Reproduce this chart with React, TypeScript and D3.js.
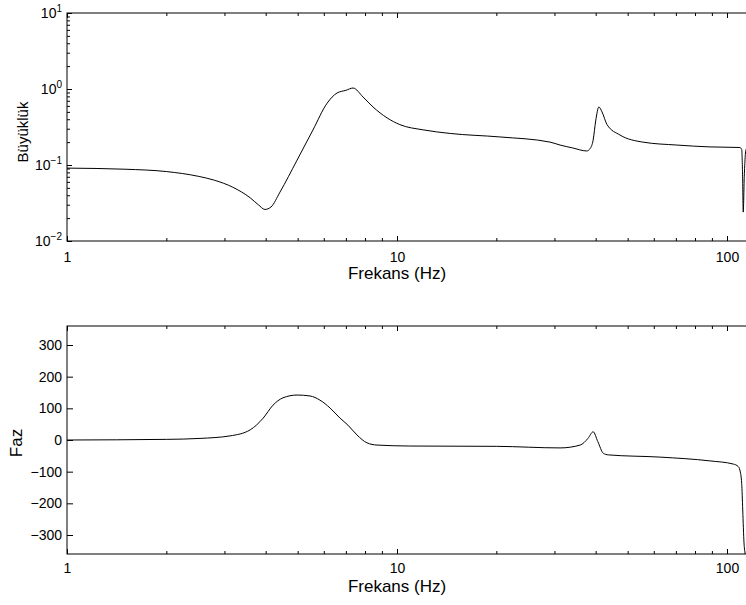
import { useEffect, useRef } from "react";
import * as d3 from "d3";

// frequency response
const magFreq = [
  1, 1.5, 2, 2.5, 2.8, 3.18, 3.59, 3.8, 3.98, 4.15, 4.42, 4.98, 5.56, 6.14,
  6.58, 7.0, 7.36, 7.89, 8.46, 9.33, 10.2, 12, 14.5, 20.5, 29.1, 31.2, 34,
  37.6, 38.5, 39.3, 40.0, 40.9, 41.8, 43.3, 47.4, 55.6, 70.5, 88.8, 109.4,
  110.8, 111.5, 112.0, 112.8, 114.2, 116,
];
const magValues = [
  0.091, 0.088, 0.082, 0.071, 0.063, 0.051, 0.037, 0.03, 0.026, 0.028, 0.044,
  0.116, 0.288, 0.65, 0.886, 0.96, 1.03, 0.785, 0.58, 0.417, 0.34, 0.29, 0.26,
  0.234, 0.2, 0.183, 0.168, 0.153, 0.165, 0.213, 0.38, 0.58, 0.5, 0.34, 0.248,
  0.2, 0.183, 0.173, 0.17, 0.16, 0.07, 0.024, 0.07, 0.16, 0.17,
];

const phaseFreq = [
  1, 2, 2.53, 3.12, 3.59, 3.93, 4.21, 4.51, 4.98, 5.45, 5.84, 6.27, 6.72, 7.1,
  7.56, 8.11, 8.7, 10.9, 20, 31.2, 35.9, 37.9, 39.3, 40.6, 42.2, 43.7, 62.6,
  88.8, 104.5, 108.2, 109.4, 110.8, 111.6, 112.6, 113.4, 114.5,
];
const phaseValues = [
  0, 2, 5, 13, 32, 69, 110, 133, 142, 139, 126, 101, 69, 47, 16, -9, -16, -19,
  -20, -25, -16, 5, 26, -5, -42, -47, -54, -66, -76, -84, -95, -137, -221,
  -325, -357, -380,
];

const xMajor = [1, 10, 100];
const xMinor = [2, 3, 4, 5, 6, 7, 8, 9, 20, 30, 40, 50, 60, 70, 80, 90, 200];
const magMajor = [0.01, 0.1, 1, 10];
const magExp = ["\u22122", "\u22121", "0", "1"];
const phaseTicks = [-300, -200, -100, 0, 100, 200, 300];

const FONT = "'Liberation Sans', Arial, Helvetica, sans-serif";

export default function App() {
  const svgRef = useRef<SVGSVGElement | null>(null);

  useEffect(() => {
    if (!svgRef.current) return;
    const width = 746;
    const height = 605;
    const left = 67;
    const decade = 330;
    const xMax = 200;
    const right = left + decade * Math.log10(xMax);

    const svg = d3.select(svgRef.current).attr("width", width).attr("height", height);
    svg.selectAll("*").remove();

    const x = d3.scaleLog().domain([1, xMax]).range([left, right]);
    const yMag = d3.scaleLog().domain([0.01, 10]).range([241, 13]);
    const yPh = d3.scaleLinear().domain([-360, 360]).range([554, 326]);

    const defs = svg.append("defs");

    function panel(id: string, top: number, bottom: number, labelPad: number) {
      defs
        .append("clipPath")
        .attr("id", id)
        .append("rect")
        .attr("x", left)
        .attr("y", top)
        .attr("width", right - left)
        .attr("height", bottom - top);

      const g = svg.append("g").attr("font-family", FONT);

      // x ticks, inward on bottom and top
      const xb = d3
        .axisBottom(x)
        .tickValues(xMajor)
        .tickSizeInner(-5)
        .tickSizeOuter(0)
        .tickPadding(labelPad)
        .tickFormat((d: any) => String(d));
      const xbm = d3.axisBottom(x).tickValues(xMinor).tickSizeInner(-3).tickSizeOuter(0).tickFormat(() => "");
      const xt = d3.axisTop(x).tickValues(xMajor).tickSizeInner(-5).tickSizeOuter(0).tickFormat(() => "");
      const xtm = d3.axisTop(x).tickValues(xMinor).tickSizeInner(-3).tickSizeOuter(0).tickFormat(() => "");

      [
        [xb, bottom],
        [xbm, bottom],
        [xt, top],
        [xtm, top],
      ].forEach(([ax, ty]: any) => {
        const a = g.append("g").attr("transform", `translate(0,${ty})`).call(ax);
        a.select(".domain").remove();
        a.selectAll("line").attr("stroke", "#000");
        a.selectAll("text").attr("font-size", 14).attr("fill", "#000").attr("font-family", FONT);
      });

      g.append("rect")
        .attr("x", left)
        .attr("y", top)
        .attr("width", right - left)
        .attr("height", bottom - top)
        .attr("fill", "none")
        .attr("stroke", "#000")
        .attr("stroke-width", 1);

      g.append("text")
        .attr("x", x(10))
        .attr("y", bottom + 38)
        .attr("text-anchor", "middle")
        .attr("font-size", 17)
        .text("Frekans (Hz)");

      return g;
    }

    // top panel: magnitude
    const g1 = panel("clipMag", 13, 241, 11);
    const magMinor: number[] = [];
    for (let e = -2; e < 1; e++) for (let k = 2; k <= 9; k++) magMinor.push(k * Math.pow(10, e));

    [
      [d3.axisLeft(yMag).tickValues(magMajor).tickSizeInner(-5), left],
      [d3.axisLeft(yMag).tickValues(magMinor).tickSizeInner(-3), left],
      [d3.axisRight(yMag).tickValues(magMajor).tickSizeInner(-5), right],
      [d3.axisRight(yMag).tickValues(magMinor).tickSizeInner(-3), right],
    ].forEach(([ax, tx]: any) => {
      const a = g1
        .append("g")
        .attr("transform", `translate(${tx},0)`)
        .call(ax.tickSizeOuter(0).tickFormat(() => ""));
      a.select(".domain").remove();
      a.selectAll("line").attr("stroke", "#000");
    });

    magMajor.forEach((v, i) => {
      const t = g1
        .append("text")
        .attr("x", 62)
        .attr("y", yMag(v))
        .attr("dy", "0.35em")
        .attr("text-anchor", "end")
        .attr("font-size", 14);
      t.append("tspan").text("10");
      t.append("tspan").attr("dy", "-0.55em").attr("font-size", 10).text(magExp[i]);
    });

    g1.append("text")
      .attr("transform", `translate(28,132) rotate(-90)`)
      .attr("text-anchor", "middle")
      .attr("font-size", 15)
      .text("Büyüklük");

    const magLine = d3
      .line<number>()
      .x((d) => x(d))
      .y((_, i) => yMag(magValues[i]))
      .curve(d3.curveMonotoneX);

    svg
      .append("path")
      .datum(magFreq)
      .attr("clip-path", "url(#clipMag)")
      .attr("fill", "none")
      .attr("stroke", "#000")
      .attr("stroke-width", 1)
      .attr("d", magLine);

    // bottom panel: phase
    const g2 = panel("clipPh", 326, 554, 9);
    [
      [d3.axisLeft(yPh).tickValues(phaseTicks).tickPadding(5).tickFormat((d: any) => (d < 0 ? "\u2212" + Math.abs(d) : String(d))), left],
      [d3.axisRight(yPh).tickValues(phaseTicks).tickFormat(() => ""), right],
    ].forEach(([ax, tx]: any) => {
      const a = g2
        .append("g")
        .attr("transform", `translate(${tx},0)`)
        .call(ax.tickSizeInner(-6).tickSizeOuter(0));
      a.select(".domain").remove();
      a.selectAll("line").attr("stroke", "#000");
      a.selectAll("text").attr("font-size", 14).attr("fill", "#000").attr("font-family", FONT);
    });

    g2.append("text")
      .attr("transform", `translate(22,443) rotate(-90)`)
      .attr("text-anchor", "middle")
      .attr("font-size", 17)
      .text("Faz");

    const phLine = d3
      .line<number>()
      .x((d) => x(d))
      .y((_, i) => yPh(phaseValues[i]))
      .curve(d3.curveMonotoneX);

    svg
      .append("path")
      .datum(phaseFreq)
      .attr("clip-path", "url(#clipPh)")
      .attr("fill", "none")
      .attr("stroke", "#000")
      .attr("stroke-width", 1)
      .attr("d", phLine);
  }, []);

  return (
    <div style={{ position: "absolute", left: 0, top: 0, background: "#fff" }}>
      <svg ref={svgRef} style={{ display: "block" }}></svg>
    </div>
  );
}
